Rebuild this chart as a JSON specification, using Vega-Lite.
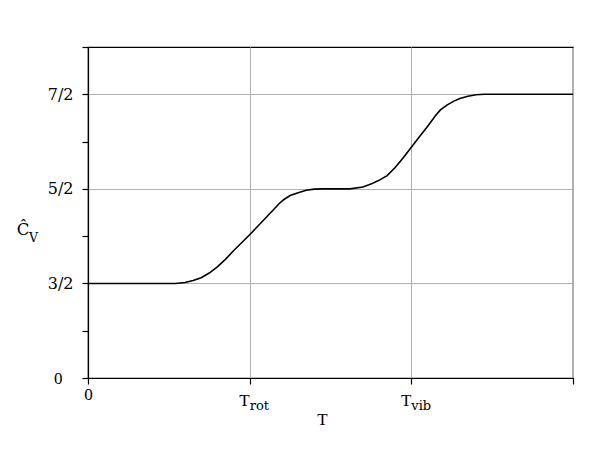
{
  "$schema": "https://vega.github.io/schema/vega-lite/v6.json",
  "width": 485,
  "height": 331,
  "autosize": {"type": "none"},
  "padding": {"left": 88, "top": 47, "right": 27, "bottom": 72},
  "background": "white",
  "config": {
    "view": {"stroke": "black", "strokeWidth": 1.2},
    "axis": {
      "domainColor": "black",
      "domainWidth": 1.2,
      "tickColor": "black",
      "tickWidth": 1.2,
      "tickSize": 6,
      "labelColor": "black",
      "gridColor": "#b0b0b0",
      "gridWidth": 1
    }
  },
  "layer": [
    {
      "data": {
        "values": [
          {"T": 0, "Cv": 1.0},
          {"T": 0.5, "Cv": 1.0},
          {"T": 0.54, "Cv": 1.0},
          {"T": 0.6, "Cv": 1.01},
          {"T": 0.65, "Cv": 1.03},
          {"T": 0.7, "Cv": 1.06},
          {"T": 0.75, "Cv": 1.11},
          {"T": 0.8, "Cv": 1.175},
          {"T": 0.85, "Cv": 1.255},
          {"T": 0.9, "Cv": 1.345},
          {"T": 0.95, "Cv": 1.43},
          {"T": 1.0, "Cv": 1.515},
          {"T": 1.05, "Cv": 1.605},
          {"T": 1.1, "Cv": 1.695},
          {"T": 1.15, "Cv": 1.785},
          {"T": 1.18, "Cv": 1.84},
          {"T": 1.21, "Cv": 1.885},
          {"T": 1.25, "Cv": 1.93},
          {"T": 1.3, "Cv": 1.96},
          {"T": 1.35, "Cv": 1.985},
          {"T": 1.4, "Cv": 1.997},
          {"T": 1.45, "Cv": 2.0},
          {"T": 1.62, "Cv": 2.0},
          {"T": 1.7, "Cv": 2.02},
          {"T": 1.75, "Cv": 2.05},
          {"T": 1.8, "Cv": 2.09},
          {"T": 1.85, "Cv": 2.14},
          {"T": 1.9, "Cv": 2.225},
          {"T": 1.95, "Cv": 2.33},
          {"T": 2.0, "Cv": 2.44},
          {"T": 2.05, "Cv": 2.55},
          {"T": 2.1, "Cv": 2.66},
          {"T": 2.15, "Cv": 2.775},
          {"T": 2.18, "Cv": 2.835},
          {"T": 2.22, "Cv": 2.885},
          {"T": 2.26, "Cv": 2.925},
          {"T": 2.3, "Cv": 2.955},
          {"T": 2.35, "Cv": 2.98},
          {"T": 2.4, "Cv": 2.995},
          {"T": 2.45, "Cv": 3.0},
          {"T": 3.0, "Cv": 3.0}
        ]
      },
      "mark": {"type": "line", "color": "black", "strokeWidth": 1.6},
      "encoding": {
        "x": {
          "field": "T",
          "type": "quantitative",
          "scale": {"domain": [0, 3], "nice": false, "zero": false},
          "axis": {
            "values": [0, 1, 2, 3],
            "labelExpr": "datum.value == 0 ? '0' : ''",
            "labelFont": "Liberation Serif",
            "labelFontSize": 17,
            "labelPadding": 2,
            "labelFlush": false,
            "grid": true,
            "title": "T",
            "titleFont": "Liberation Serif",
            "titleFontSize": 17,
            "titleFontWeight": "normal",
            "titleColor": "black",
            "titlePadding": 9,
            "titleX": 234
          }
        },
        "y": {
          "field": "Cv",
          "type": "quantitative",
          "scale": {"domain": [0, 3.5], "nice": false},
          "axis": {
            "values": [0, 0.5, 1, 1.5, 2, 2.5, 3, 3.5],
            "labelExpr": "datum.value == 0 ? '0' : datum.value == 1 ? '3/2' : datum.value == 2 ? '5/2' : datum.value == 3 ? '7/2' : ''",
            "labelFont": {"condition": {"test": "datum.value == 0", "value": "Liberation Serif"}, "value": "DejaVu Serif"},
            "labelFontSize": {"condition": {"test": "datum.value == 0", "value": 17}, "value": 16},
            "labelPadding": {"condition": {"test": "datum.value == 0", "value": 20}, "value": 9},
            "labelBaseline": "middle",
            "labelFlush": false,
            "grid": true,
            "gridOpacity": {"condition": {"test": "datum.value % 1 == 0", "value": 1}, "value": 0},
            "title": null
          }
        }
      }
    },
    {
      "data": {"values": [{"T": 1, "main": "T", "sub": "rot"}, {"T": 2, "main": "T", "sub": "vib"}]},
      "layer": [
        {
          "mark": {"type": "text", "align": "right", "baseline": "alphabetic", "dy": 28, "dx": 0, "font": "Liberation Serif", "fontSize": 17, "color": "black"},
          "encoding": {"x": {"field": "T", "type": "quantitative"}, "y": {"datum": 0}, "text": {"field": "main"}}
        },
        {
          "mark": {"type": "text", "align": "left", "baseline": "alphabetic", "dy": 32, "dx": 0, "font": "DejaVu Serif", "fontSize": 13, "color": "black"},
          "encoding": {"x": {"field": "T", "type": "quantitative"}, "y": {"datum": 0}, "text": {"field": "sub"}}
        }
      ]
    },
    {
      "data": {"values": [{"T": 0, "Cv": 2, "sym": "Ĉ", "sub": "V"}]},
      "layer": [
        {
          "mark": {"type": "text", "align": "center", "baseline": "alphabetic", "dx": -65, "dy": 46, "font": "DejaVu Serif", "fontSize": 16.5, "color": "black"},
          "encoding": {"x": {"field": "T", "type": "quantitative"}, "y": {"field": "Cv", "type": "quantitative"}, "text": {"field": "sym"}}
        },
        {
          "mark": {"type": "text", "align": "center", "baseline": "alphabetic", "dx": -54.5, "dy": 53, "font": "DejaVu Serif", "fontSize": 12.5, "color": "black"},
          "encoding": {"x": {"field": "T", "type": "quantitative"}, "y": {"field": "Cv", "type": "quantitative"}, "text": {"field": "sub"}}
        }
      ]
    }
  ]
}
